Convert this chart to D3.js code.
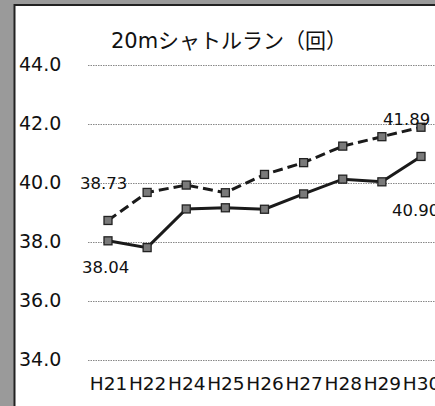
<!DOCTYPE html>
<html><head><meta charset="utf-8">
<script src="https://cdn.jsdelivr.net/npm/d3@7"></script>
<style>html,body{margin:0;padding:0;background:#fff;}svg{display:block;}</style>
</head><body>
<svg id="c" width="435" height="406"></svg>
<script>
const categories = ["H21","H22","H24","H25","H26","H27","H28","H29","H30"];
const seriesDashed = [38.73, 39.68, 39.93, 39.67, 40.29, 40.69, 41.25, 41.57, 41.89];
const seriesSolid  = [38.04, 37.81, 39.12, 39.16, 39.11, 39.63, 40.13, 40.04, 40.90];
const yTicks = [34, 36, 38, 40, 42, 44];
const title = "20mシャトルラン（回）";

const svg = d3.select("#c");
const W = 435, H = 406;
svg.append("rect").attr("width", W).attr("height", H).attr("fill", "#fff");

// scanned frame border
svg.append("rect").attr("x", 0).attr("y", 0).attr("width", 14).attr("height", H).attr("fill", "#9a9a9a");
svg.append("rect").attr("x", 0).attr("y", 0).attr("width", W).attr("height", 4).attr("fill", "#9a9a9a");
svg.append("line").attr("x1", 14.5).attr("x2", 14.5).attr("y1", 4).attr("y2", H).attr("stroke", "#222").attr("stroke-width", 2);
svg.append("line").attr("x1", 14).attr("x2", W).attr("y1", 5).attr("y2", 5).attr("stroke", "#222").attr("stroke-width", 2);

const x = d3.scalePoint().domain(categories).range([108, 421]);
const y = d3.scaleLinear().domain([34, 44]).range([360, 65]);

// title
svg.append("text").attr("x", 229).attr("y", 48).attr("text-anchor", "middle")
  .attr("font-family", "'DejaVu Sans','Noto Sans CJK JP',sans-serif").attr("font-size", 21)
  .attr("fill", "#111").text(title);

// gridlines + y labels
const yAxis = d3.axisLeft(y).tickValues(yTicks).tickFormat(d3.format(".1f")).tickSize(-(W - 88)).tickPadding(0);
const gy = svg.append("g").attr("transform", "translate(88,0)").call(yAxis);
gy.select(".domain").remove();
gy.selectAll(".tick line").attr("stroke", "#888").attr("stroke-width", 1).attr("stroke-dasharray", "1.5,1");
gy.selectAll(".tick text").attr("x", -69).attr("text-anchor", "start").attr("dy", "0.3em")
  .attr("font-family", "'DejaVu Sans',sans-serif").attr("font-size", 19).attr("fill", "#111");

// x labels
const xAxis = d3.axisBottom(x).tickSize(0).tickPadding(0);
const gx = svg.append("g").attr("transform", "translate(0,390)").call(xAxis);
gx.select(".domain").remove();
gx.selectAll(".tick text").attr("dy", 0).attr("y", 0)
  .attr("font-family", "'DejaVu Sans',sans-serif").attr("font-size", 18.5).attr("fill", "#111");

const line = d3.line().x((d, i) => x(categories[i])).y(d => y(d));

function drawSeries(vals, dashed) {
  svg.append("path").datum(vals).attr("d", line).attr("fill", "none")
    .attr("stroke", "#1a1a1a").attr("stroke-width", 3)
    .attr("stroke-dasharray", dashed ? "10,5" : null);
  svg.append("g").selectAll("rect").data(vals).join("rect")
    .attr("x", (d, i) => x(categories[i]) - 4).attr("y", d => y(d) - 4)
    .attr("width", 8).attr("height", 8)
    .attr("fill", "#7a7a7a").attr("stroke", "#222").attr("stroke-width", 1.3);
}
drawSeries(seriesDashed, true);
drawSeries(seriesSolid, false);

// data labels
const lab = (t, xx, yy) => svg.append("text").attr("x", xx).attr("y", yy)
  .attr("font-family", "'DejaVu Sans',sans-serif").attr("font-size", 16.5).attr("fill", "#111").text(t);
lab(d3.format(".2f")(seriesDashed[0]), 80, 189);
lab(d3.format(".2f")(seriesSolid[0]), 82, 273);
lab(d3.format(".2f")(seriesDashed[8]), 383, 125);
lab(d3.format(".2f")(seriesSolid[8]), 392, 216);
</script>
</body></html>
